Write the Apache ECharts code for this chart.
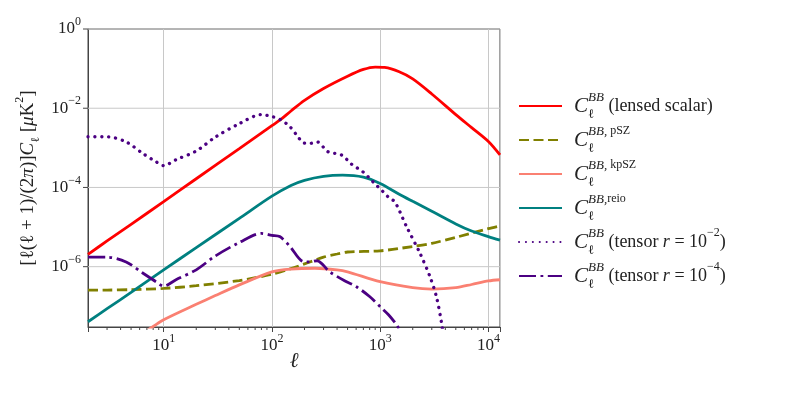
<!DOCTYPE html>
<html>
<head>
<meta charset="utf-8">
<script src="https://cdn.jsdelivr.net/npm/echarts@6/dist/echarts.min.js"></script>
<style>html,body{margin:0;padding:0;background:#fff}#chart{width:789px;height:395px}</style>
</head>
<body>
<div id="chart"></div>
<script>
// multipoles and log10 of l(l+1)C_l/2pi, per curve
var lensedEll = [2, 3, 5, 10, 20, 50, 100, 120, 150, 200, 300, 500, 700, 900, 1100, 1500, 2000, 3000, 5000, 7000, 10000, 12800];
var lensedExp = [-5.69, -5.35, -4.93, -4.36, -3.78, -3.02, -2.44, -2.29, -2.07, -1.80, -1.50, -1.19, -1.02, -0.96, -0.97, -1.08, -1.26, -1.64, -2.16, -2.49, -2.84, -3.18];

var pszEll = [2, 3, 5, 10, 20, 50, 100, 150, 200, 300, 400, 500, 1000, 2000, 3000, 5000, 10000, 12800];
var pszExp = [-6.59, -6.59, -6.58, -6.55, -6.48, -6.35, -6.19, -6.05, -5.93, -5.76, -5.68, -5.63, -5.60, -5.49, -5.41, -5.26, -5.04, -4.97];

var kpszEll = [5, 8, 10, 20, 30, 50, 100, 150, 250, 400, 500, 1000, 2000, 3000, 5000, 7000, 10000, 12800];
var kpszExp = [-7.87, -7.51, -7.34, -6.95, -6.73, -6.46, -6.13, -6.06, -6.04, -6.08, -6.13, -6.38, -6.53, -6.565, -6.53, -6.45, -6.36, -6.33];

var reioEll = [2, 3, 5, 10, 20, 50, 100, 150, 200, 300, 450, 700, 1000, 1500, 2000, 3000, 5000, 7000, 10000, 12800];
var reioExp = [-7.39, -7.06, -6.65, -6.08, -5.52, -4.78, -4.22, -3.95, -3.82, -3.72, -3.69, -3.74, -3.90, -4.17, -4.35, -4.60, -4.92, -5.10, -5.24, -5.33];

var t2Ell = [2, 3, 4.5, 6.4, 8.5, 10, 13, 20, 30, 50, 80, 100, 120, 146, 174, 194, 223, 261, 330, 440, 543, 697, 861, 1066, 1230, 1368, 1754, 2333, 2884, 3311, 3698, 3900];
var t2Exp = [-2.72, -2.72, -2.85, -3.14, -3.35, -3.45, -3.30, -3.08, -2.73, -2.39, -2.16, -2.21, -2.29, -2.46, -2.72, -2.87, -2.89, -2.85, -3.10, -3.18, -3.41, -3.61, -3.86, -4.11, -4.28, -4.36, -4.99, -5.66, -6.25, -6.76, -7.43, -7.9];

var t4Ell = [2, 3, 4.5, 6.4, 8.5, 10, 13, 20, 30, 50, 80, 100, 118, 146, 194, 223, 261, 342, 489, 600, 804, 1000, 1200, 1420, 1600];
var t4Exp = [-5.76, -5.76, -5.88, -6.16, -6.38, -6.49, -6.33, -6.08, -5.73, -5.39, -5.16, -5.21, -5.24, -5.48, -5.87, -5.88, -5.85, -6.13, -6.38, -6.50, -6.76, -7.01, -7.22, -7.47, -7.7];

var yTicks = [1e-6, 1e-4, 1e-2, 1];
var minorTicks = [3, 4, 5, 6, 7, 8, 9, 20, 30, 40, 50, 60, 70, 80, 90, 200, 300, 400, 500, 600, 700, 800, 900, 2000, 3000, 4000, 5000, 6000, 7000, 8000, 9000];

var xMin = 2, xMax = 12800, yMin = 3.0e-8, yMax = 1;
var serif = '"Liberation Serif", "DejaVu Serif", serif';
var frame = '#444';
var gridColor = '#c8c8c8';

function pts(ells, exps) {
    return ells.map(function (l, i) { return [l, Math.pow(10, exps[i])]; });
}

function powLabel(v) {
    var e = Math.log10(v);
    var r = Math.round(e);
    if (Math.abs(e - r) > 1e-6) return '';
    return '{b|10}{s|' + (r < 0 ? '\u2212' + (-r) : r) + '}';
}

var labelRich = {
    b: { fontFamily: serif, fontSize: 17, color: '#222', lineHeight: 26, verticalAlign: 'middle' },
    s: { fontFamily: serif, fontSize: 12, color: '#222', verticalAlign: 'top' }
};

var legendText = {
    lensed: '{gap|}{C|C}{l|\u2113}{sup|BB}{t| (lensed scalar)}',
    psz: '{gap|}{C|C}{l|\u2113}{sup|BB,}{supr| pSZ}',
    kpsz: '{gap|}{C|C}{l|\u2113}{sup|BB,}{supr| kpSZ}',
    reio: '{gap|}{C|C}{l|\u2113}{sup|BB,}{supr|reio}',
    t2: '{gap|}{C|C}{l|\u2113}{sup|BB}{t| (tensor }{ti|r}{t| = 10}{tsup|\u22122}{t|)}',
    t4: '{gap|}{C|C}{l|\u2113}{sup|BB}{t| (tensor }{ti|r}{t| = 10}{tsup|\u22124}{t|)}'
};

var legendRich = {
    gap: { width: 7 },
    C: { fontFamily: serif, fontStyle: 'italic', fontSize: 21, lineHeight: 30, verticalAlign: 'middle', color: '#222' },
    l: { fontFamily: serif, fontSize: 13, width: 0, verticalAlign: 'bottom', color: '#222' },
    sup: { fontFamily: serif, fontStyle: 'italic', fontSize: 13, verticalAlign: 'top', color: '#222' },
    supr: { fontFamily: serif, fontSize: 12, verticalAlign: 'top', color: '#222' },
    t: { fontFamily: serif, fontSize: 18, lineHeight: 30, verticalAlign: 'middle', color: '#222' },
    ti: { fontFamily: serif, fontStyle: 'italic', fontSize: 18, lineHeight: 30, verticalAlign: 'middle', color: '#222' },
    tsup: { fontFamily: serif, fontSize: 12, verticalAlign: 'top', color: '#222' }
};

var myChart = echarts.init(document.getElementById('chart'));

function lineSeries(name, data, color, type, cap, width) {
    return {
        name: name,
        type: 'line',
        data: data,
        showSymbol: false,
        symbol: 'none',
        smooth: 0.3,
        clip: true,
        lineStyle: { color: color, width: width || 2.8, type: type, cap: cap || 'butt' },
        itemStyle: { color: color }
    };
}

// short marks outside the frame (and y grid lines), placed through the axes' own scales
function tickSeries(values, onX) {
    return {
        type: 'custom',
        silent: true,
        clip: false,
        data: values.map(function (v) { return onX ? [v, yMin] : [xMin, v]; }),
        renderItem: function (params, api) {
            var p = api.coord([api.value(0), api.value(1)]);
            if (onX) {
                return { type: 'line', shape: { x1: p[0], y1: p[1], x2: p[0], y2: p[1] + 3 }, style: { stroke: frame, lineWidth: 1 } };
            }
            var q = api.coord([xMax, api.value(1)]);
            return {
                type: 'group',
                children: [
                    { type: 'line', z2: -1, shape: { x1: p[0], y1: p[1], x2: q[0], y2: p[1] }, style: { stroke: gridColor, lineWidth: 1 } },
                    { type: 'line', shape: { x1: p[0] - 5, y1: p[1], x2: p[0], y2: p[1] }, style: { stroke: frame, lineWidth: 1 } }
                ]
            };
        }
    };
}

var option = {
    animation: false,
    backgroundColor: '#fff',
    grid: {
        left: 88, top: 29, right: 289, bottom: 68,
        show: true, borderColor: frame, borderWidth: 1, backgroundColor: 'transparent'
    },
    legend: {
        orient: 'vertical',
        left: 513,
        top: 86,
        itemWidth: 43,
        itemHeight: 12,
        itemGap: 4,
        itemStyle: { color: 'rgba(0,0,0,0)', borderWidth: 0, opacity: 0 },
        data: ['lensed', 'psz', 'kpsz', 'reio', 't2', 't4'],
        formatter: function (name) { return legendText[name]; },
        textStyle: { rich: legendRich }
    },
    xAxis: {
        type: 'log',
        logBase: 10,
        min: xMin,
        max: xMax,
        name: '\u2113',
        nameLocation: 'middle',
        nameGap: 24,
        nameMoveOverlap: false,
        nameTextStyle: { fontFamily: serif, fontStyle: 'italic', fontSize: 21, color: '#222' },
        axisLine: { show: true, lineStyle: { color: frame, width: 1 } },
        axisTick: { show: true, inside: false, length: 5, lineStyle: { color: frame } },
        axisLabel: { formatter: powLabel, rich: labelRich, margin: 6 },
        splitLine: { show: true, lineStyle: { color: gridColor, width: 1 } }
    },
    yAxis: {
        type: 'log',
        logBase: 10,
        min: yMin,
        max: yMax,
        name: '{r|[}{r|\u2113(\u2113 + 1)/(2}{i|\u03c0}{r|)]}{i|C}{sub|\u2113}{r| [}{i|\u03bc}{r|K}{sup|2}{r|]}',
        nameLocation: 'middle',
        nameGap: 46,
        nameMoveOverlap: false,
        nameTextStyle: {
            rich: {
                r: { fontFamily: serif, fontSize: 19, lineHeight: 28, color: '#222', verticalAlign: 'middle' },
                i: { fontFamily: serif, fontStyle: 'italic', fontSize: 19, lineHeight: 28, color: '#222', verticalAlign: 'middle' },
                sub: { fontFamily: serif, fontSize: 12, color: '#222', verticalAlign: 'bottom' },
                sup: { fontFamily: serif, fontSize: 12, color: '#222', verticalAlign: 'top' }
            }
        },
        axisLine: { show: true, lineStyle: { color: frame, width: 1 } },
        axisTick: { show: false },
        axisLabel: { customValues: yTicks, formatter: powLabel, rich: labelRich, margin: 7 },
        splitLine: { show: false }
    },
    series: [
        tickSeries(minorTicks, true),
        tickSeries(yTicks, false),
        lineSeries('lensed', pts(lensedEll, lensedExp), '#ff0000', 'solid'),
        lineSeries('psz', pts(pszEll, pszExp), '#808000', [10, 4.5]),
        lineSeries('kpsz', pts(kpszEll, kpszExp), '#fa8072', 'solid'),
        lineSeries('reio', pts(reioEll, reioExp), '#008080', 'solid'),
        lineSeries('t2', pts(t2Ell, t2Exp), '#4b0082', [0.1, 6.8], 'round', 3.3),
        lineSeries('t4', pts(t4Ell, t4Exp), '#4b0082', [17, 4.5, 2.8, 4.5])
    ]
};
myChart.setOption(option);
</script>
</body>
</html>
